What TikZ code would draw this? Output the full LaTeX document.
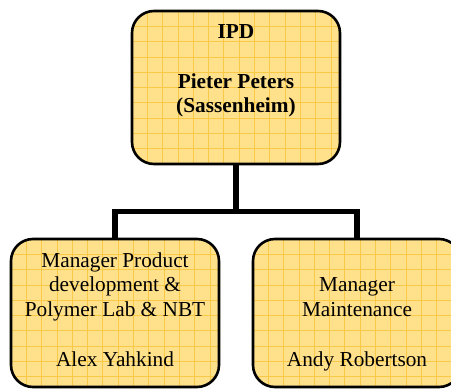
\documentclass[tikz,border=0pt]{standalone}
\usepackage{fontspec}
\setmainfont{Liberation Serif}
\begin{document}
\begin{tikzpicture}[x=1pt,y=-1pt,
  boxfill/.style={fill={rgb,255:red,255;green,225;blue,140}},
  gridline/.style={draw={rgb,255:red,249;green,200;blue,70}, line width=0.65pt},
  orgbox/.style={boxfill, draw=black, line width=2.6pt, rounded corners=22pt,
    minimum width=208pt, minimum height=#1, inner sep=0pt,
    path picture={
      \foreach \i in {1,...,14}{
        \draw[gridline] ([xshift=\i*15.3pt]path picture bounding box.north west)
          -- ([xshift=\i*15.3pt]path picture bounding box.south west);
        \draw[gridline] ([yshift=-\i*15.3pt]path picture bounding box.north west)
          -- ([yshift=-\i*15.3pt]path picture bounding box.north east);
      }
    }},
  txt/.style={anchor=base, inner sep=0pt, font=\fontsize{21.3}{24.5}\selectfont},
  btxt/.style={txt, font=\fontsize{21.3}{24.5}\selectfont\bfseries},
  link/.style={draw=black, line width=5.5pt, line join=miter}
]
\useasboundingbox (0,0) rectangle (451,389);

% boxes
\node[orgbox=153pt] (ipd) at (236,87.5) {};
\node[orgbox=148pt] (prod) at (115,313) {};
\node[orgbox=148pt] (maint) at (357,313) {};

% connectors
\coordinate (junction) at (236,211.5);
\draw[link] (ipd.south) -- (junction);
\draw[link] (prod.north) |- (junction) -| (maint.north);

% top box text
\node[btxt] (ipdname) at (236,38) {IPD};
\node[btxt] (pieter) at (236,88) {Pieter Peters};
\node[btxt] (sassen) at (236,112) {(Sassenheim)};

% left box text
\node[txt] (p1) at (115,267) {Manager Product};
\node[txt] (p2) at (115,291.5) {development \&};
\node[txt] (p3) at (115,316) {Polymer Lab \& NBT};
\node[txt] (p4) at (115,366) {Alex Yahkind};

% right box text
\node[txt] (m1) at (357,291.5) {Manager};
\node[txt] (m2) at (357,316) {Maintenance};
\node[txt] (m3) at (357,366) {Andy Robertson};
\end{tikzpicture}
\end{document}
